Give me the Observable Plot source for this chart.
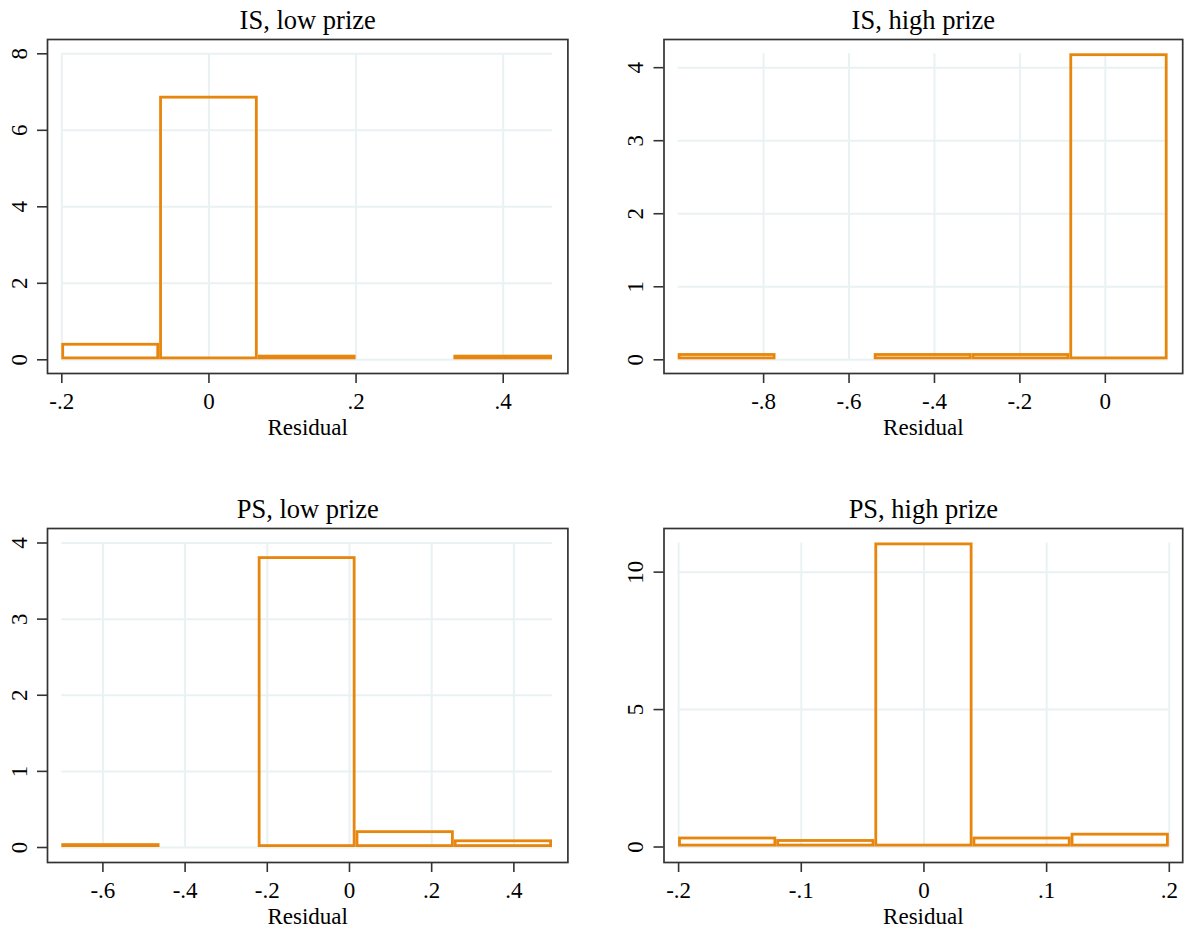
<!DOCTYPE html>
<html><head><meta charset="utf-8">
<script src="https://cdn.jsdelivr.net/npm/d3@7"></script>
<script src="https://cdn.jsdelivr.net/npm/@observablehq/plot@0.6"></script>
<style>
body{margin:0;background:#fff;}
#wrap{position:relative;width:1193px;height:933px;background:#fff;overflow:hidden;}
.panel{position:absolute;}
</style></head><body><div id="wrap"></div>
<script>
// ---- data (densities) ----
const titles = ["IS, low prize", "IS, high prize", "PS, low prize", "PS, high prize"];
const axisTitle = "Residual";

// IS, low prize
const isLowEdges   = [-0.200, -0.067, 0.067, 0.200, 0.333, 0.467];
const isLowDensity = [0.43, 6.89, 0.12, 0, 0.12];
const isLowXDomain = [-0.200, 0.467];
const isLowYDomain = [0, 8];
const isLowXTicks  = [-0.2, 0, 0.2, 0.4];
const isLowXLabels = ["-.2", "0", ".2", ".4"];
const isLowYTicks  = [0, 2, 4, 6, 8];
const isLowYLabels = ["0", "2", "4", "6", "8"];

// IS, high prize
const isHighEdges   = [-1.000, -0.771, -0.541, -0.312, -0.083, 0.147];
const isHighDensity = [0.085, 0, 0.085, 0.085, 4.19];
const isHighXDomain = [-1.000, 0.147];
const isHighYDomain = [0, 4.19];
const isHighXTicks  = [-0.8, -0.6, -0.4, -0.2, 0];
const isHighXLabels = ["-.8", "-.6", "-.4", "-.2", "0"];
const isHighYTicks  = [0, 1, 2, 3, 4];
const isHighYLabels = ["0", "1", "2", "3", "4"];

// PS, low prize
const psLowEdges   = [-0.700, -0.461, -0.222, 0.016, 0.255, 0.494];
const psLowDensity = [0.05, 0, 3.82, 0.22, 0.10];
const psLowXDomain = [-0.700, 0.494];
const psLowYDomain = [0, 4];
const psLowXTicks  = [-0.6, -0.4, -0.2, 0, 0.2, 0.4];
const psLowXLabels = ["-.6", "-.4", "-.2", "0", ".2", ".4"];
const psLowYTicks  = [0, 1, 2, 3, 4];
const psLowYLabels = ["0", "1", "2", "3", "4"];

// PS, high prize
const psHighEdges   = [-0.20, -0.12, -0.04, 0.04, 0.12, 0.20];
const psHighDensity = [0.36, 0.27, 11.06, 0.36, 0.50];
const psHighXDomain = [-0.20, 0.20];
const psHighYDomain = [0, 11.06];
const psHighXTicks  = [-0.2, -0.1, 0, 0.1, 0.2];
const psHighXLabels = ["-.2", "-.1", "0", ".1", ".2"];
const psHighYTicks  = [0, 5, 10];
const psHighYLabels = ["0", "5", "10"];

// ---- styling ----
const ORANGE = "#e8850c";
const GRID = "#eaf1f3";
const INK = "#333";
const FONT = "'Liberation Serif', 'Times New Roman', serif";
const TICK_FS = 23, LABEL_FS = 23, TITLE_FS = 26.5;

function panel(cfg) {
  const bins = cfg.density
    .map((d, i) => ({x1: cfg.edges[i], x2: cfg.edges[i + 1], y: d}))
    .filter(b => b.y > 0);
  const p = Plot.plot({
    width: cfg.w, height: cfg.h,
    marginLeft: cfg.ml, marginRight: cfg.mr, marginTop: cfg.mt, marginBottom: cfg.mb,
    style: {fontFamily: FONT, fontSize: TICK_FS + "px", color: "#000", background: "transparent", overflow: "visible"},
    x: {domain: cfg.xDomain, insetLeft: cfg.il, insetRight: cfg.ir},
    y: {domain: cfg.yDomain, insetTop: cfg.it, insetBottom: cfg.ib},
    marks: [
      Plot.ruleY(cfg.yTicks, {y: d => d, x1: cfg.xDomain[0], x2: cfg.xDomain[1], stroke: GRID, strokeWidth: 2}),
      Plot.ruleX(cfg.xTicks, {x: d => d, y1: cfg.yDomain[0], y2: cfg.yDomain[1], stroke: GRID, strokeWidth: 2}),
      Plot.rectY(bins, {x1: "x1", x2: "x2", y1: 0, y2: "y", fill: "none", stroke: ORANGE, strokeWidth: 2.8, inset: 1.4}),
      Plot.frame({stroke: INK, strokeWidth: 1.7}),
      Plot.axisX({ticks: cfg.xTicks, tickSize: 10, tickFormat: () => "", label: null, stroke: INK, strokeWidth: 1.6}),
      Plot.axisY({ticks: cfg.yTicks, tickSize: 10, tickFormat: () => "", label: null, stroke: INK, strokeWidth: 1.6}),
      Plot.text(cfg.xTicks, {x: d => d, text: (d, i) => cfg.xLabels[i], frameAnchor: "bottom", dy: 35.5, lineAnchor: "bottom", fill: "#000", fontSize: TICK_FS}),
      Plot.text(cfg.yTicks, {y: d => d, text: (d, i) => cfg.yLabels[i], frameAnchor: "left", dx: -21, rotate: -90, textAnchor: "middle", lineAnchor: "bottom", fill: "#000", fontSize: TICK_FS}),
      Plot.text([cfg.title], {text: d => d, frameAnchor: "top", dy: -10.5, lineAnchor: "bottom", fill: "#000", fontSize: TITLE_FS}),
      Plot.text([axisTitle], {text: d => d, frameAnchor: "bottom", dy: 61, lineAnchor: "bottom", fill: "#000", fontSize: LABEL_FS})
    ]
  });
  const div = document.createElement("div");
  div.className = "panel";
  div.style.left = cfg.left + "px";
  div.style.top = cfg.top + "px";
  div.appendChild(p);
  document.getElementById("wrap").appendChild(div);
}

panel({title: titles[0], edges: isLowEdges, density: isLowDensity, xDomain: isLowXDomain, yDomain: isLowYDomain,
  xTicks: isLowXTicks, xLabels: isLowXLabels, yTicks: isLowYTicks, yLabels: isLowYLabels,
  left: 0, top: 0, w: 596, h: 460, ml: 47, mr: 28.6, mt: 39, mb: 87, il: 14.3, ir: 15.4, it: 14.3, ib: 13.7});
panel({title: titles[1], edges: isHighEdges, density: isHighDensity, xDomain: isHighXDomain, yDomain: isHighYDomain,
  xTicks: isHighXTicks, xLabels: isHighXLabels, yTicks: isHighYTicks, yLabels: isHighYLabels,
  left: 596, top: 0, w: 597, h: 460, ml: 67.5, mr: 10.8, mt: 39, mb: 87, il: 14.2, ir: 14.6, it: 14.3, ib: 13.7});
panel({title: titles[2], edges: psLowEdges, density: psLowDensity, xDomain: psLowXDomain, yDomain: psLowYDomain,
  xTicks: psLowXTicks, xLabels: psLowXLabels, yTicks: psLowYTicks, yLabels: psLowYLabels,
  left: 0, top: 460, w: 596, h: 473, ml: 47, mr: 28.6, mt: 68, mb: 71, il: 14.3, ir: 15.4, it: 14.5, ib: 15});
panel({title: titles[3], edges: psHighEdges, density: psHighDensity, xDomain: psHighXDomain, yDomain: psHighYDomain,
  xTicks: psHighXTicks, xLabels: psHighXLabels, yTicks: psHighYTicks, yLabels: psHighYLabels,
  left: 596, top: 460, w: 597, h: 473, ml: 67.5, mr: 10.8, mt: 68, mb: 71, il: 14.6, ir: 13.4, it: 14.5, ib: 15.5});
</script>
</body></html>
